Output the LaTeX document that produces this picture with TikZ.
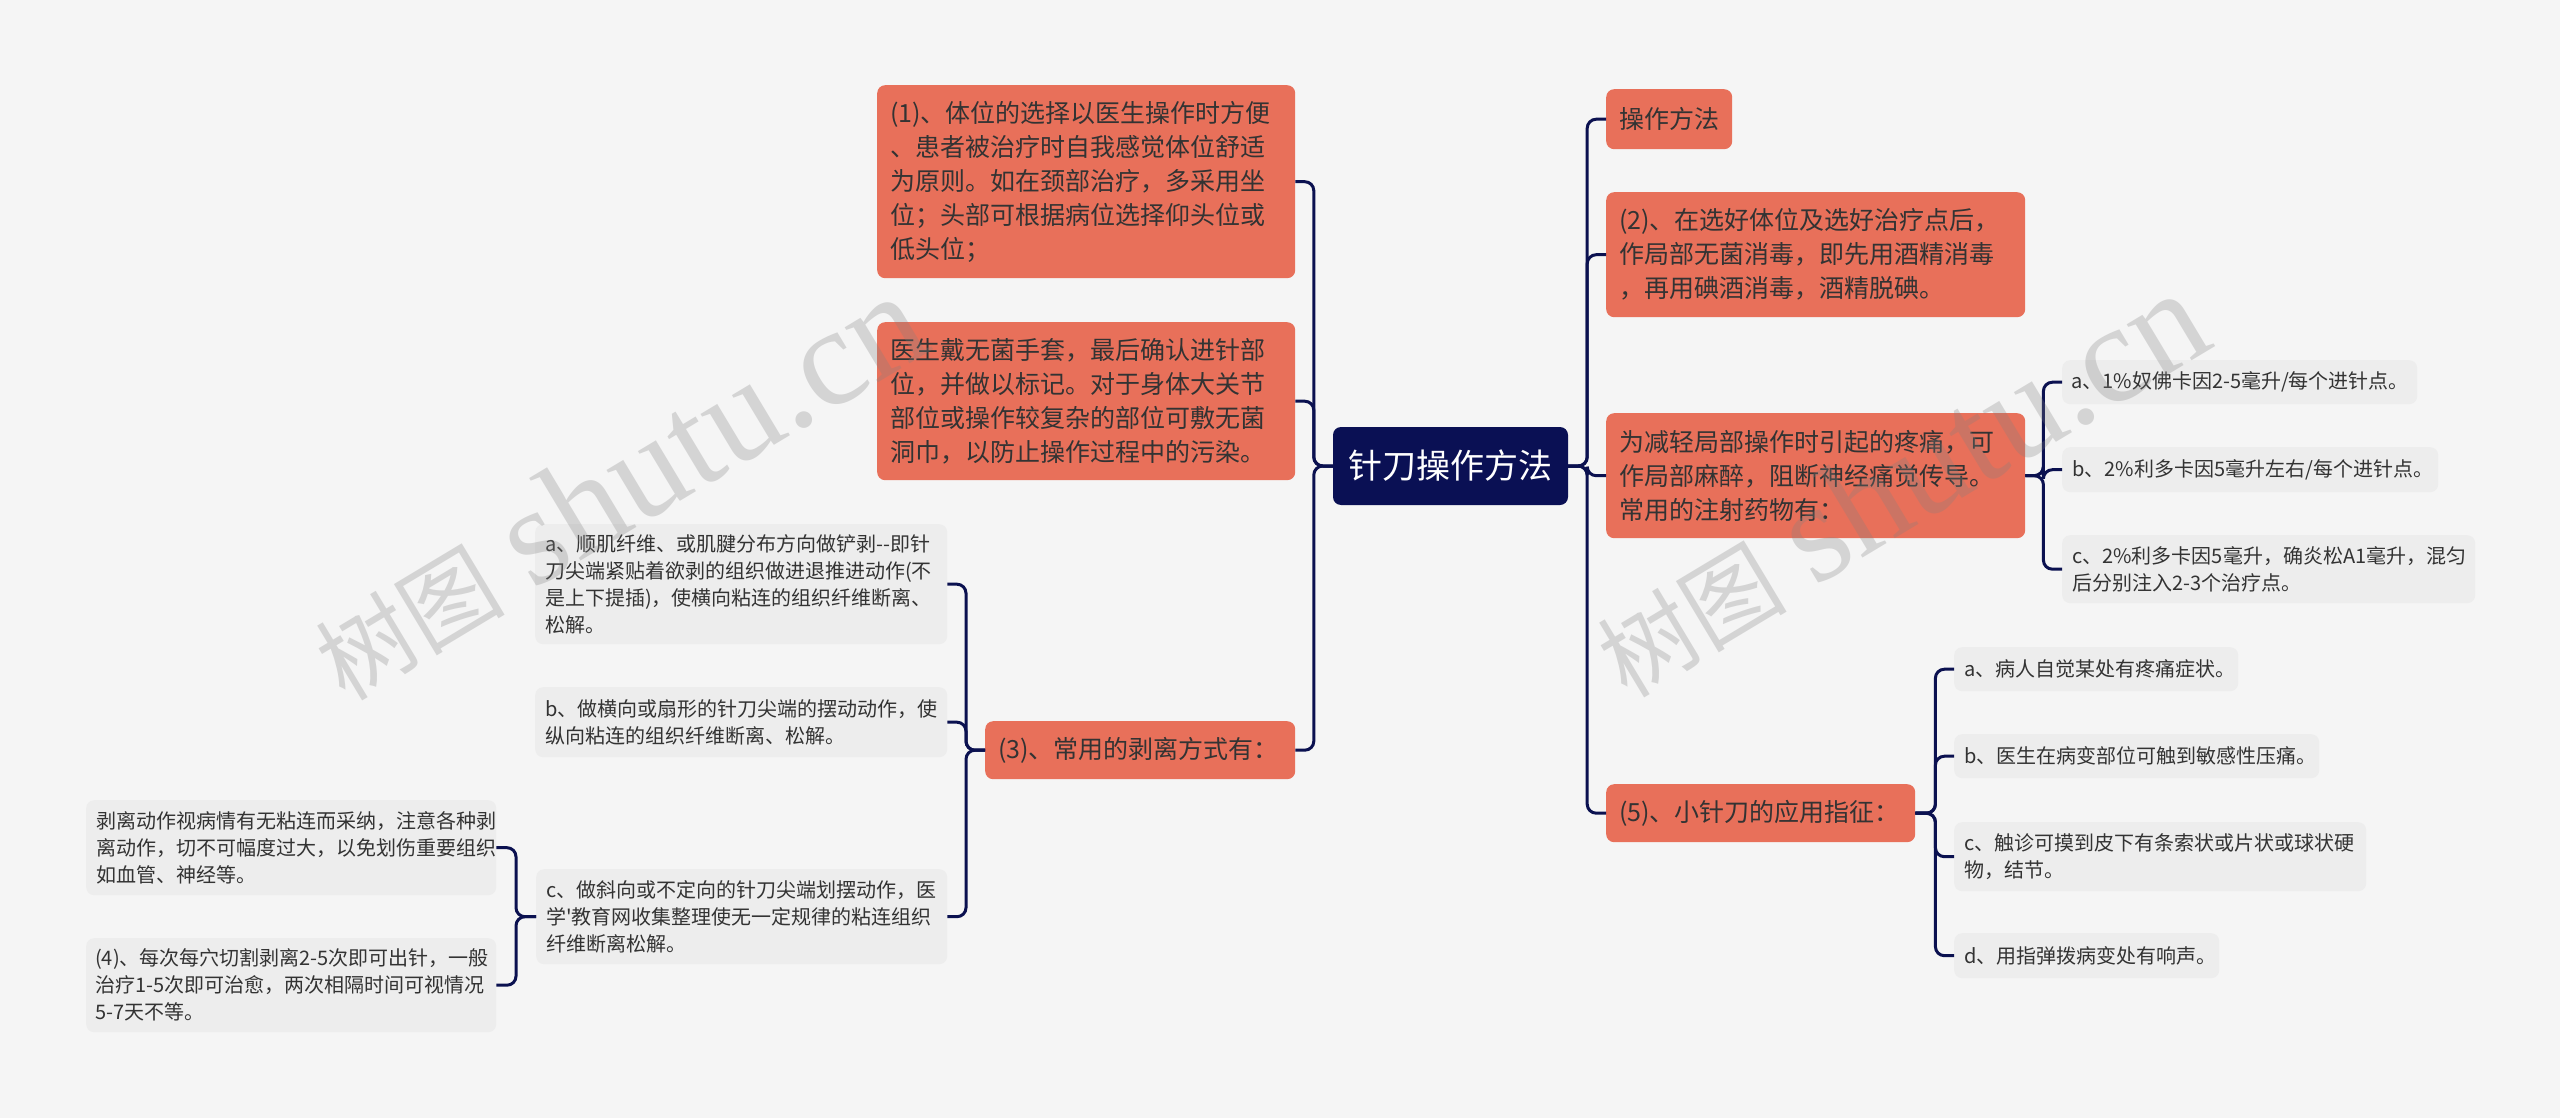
\documentclass[tikz,border=0pt]{standalone}
\usepackage{fontspec}
\setmainfont{Noto Sans CJK SC}
\newfontfamily\wmfont{Liberation Serif}
\definecolor{bgcol}{HTML}{F5F5F5}
\definecolor{rootcol}{HTML}{0A1054}
\definecolor{topiccol}{HTML}{E8705A}
\definecolor{leafcol}{HTML}{EDEDED}
\definecolor{linecol}{HTML}{0B1150}
\definecolor{txtcol}{HTML}{333333}

\begin{document}
\begin{tikzpicture}[x=1pt,y=-1pt,
	root/.style={
		fill=rootcol, rounded corners=8pt,
		text=white, font=\fontsize{34}{40}\selectfont,
		minimum width=235pt, minimum height=78pt,
		inner sep=0pt
	},
	topic/.style={
		fill=topiccol, rounded corners=8pt,
		text=txtcol, font=\fontsize{25}{34}\selectfont,
		inner xsep=13pt, inner ysep=0pt,
		align=left, anchor=north west
	},
	leaf/.style={
		fill=leafcol, rounded corners=8pt,
		text=txtcol, font=\fontsize{20}{27}\selectfont,
		inner xsep=10pt, inner ysep=0pt,
		align=left, anchor=north west
	},
	link/.style={
		draw=linecol, line width=3pt, rounded corners=9pt
	},
	wm/.style={
		text=gray, text opacity=0.28,
		rotate=31, anchor=base west, inner sep=0pt
	}
	]
	\fill[bgcol] (0,0) rectangle (2560,1118);
	\useasboundingbox (0,0) rectangle (2560,1118);

	% centre
	\node[root] (root) at (1450.5,466) {针刀操作方法};

	% right side
	\node[topic, text width=100pt, align=center, minimum height=60pt] (op) at (1606,89) {操作方法};
	\node[topic, text width=393pt, minimum height=125pt] (r2) at (1606,192)
	{(2)、在选好体位及选好治疗点后，\\作局部无菌消毒，即先用酒精消毒\\，再用碘酒消毒，酒精脱碘。};
	\node[topic, text width=393pt, minimum height=125pt] (r3) at (1606,413)
	{为减轻局部操作时引起的疼痛，可\\作局部麻醉，阻断神经痛觉传导。\\常用的注射药物有：};
	\node[topic, text width=283pt, minimum height=58pt] (r5) at (1606,784)
	{(5)、小针刀的应用指征：};

	\node[leaf, text width=337pt, inner xsep=9pt, minimum height=44pt] (r3a) at (2062,360)
	{\mbox{a、1\%奴佛卡因2-5毫升/每个进针点。}};
	\node[leaf, text width=356pt, minimum height=45pt] (r3b) at (2062,447)
	{\mbox{b、2\%利多卡因5毫升左右/每个进针点。}};
	\node[leaf, text width=393pt, minimum height=68pt] (r3c) at (2062,535)
	{c、2\%利多卡因5毫升，确炎松A1毫升，混匀\\后分别注入\mbox{2-3}个治疗点。};

	\node[leaf, text width=264pt, minimum height=44pt] (r5a) at (1954,647)
	{a、病人自觉某处有疼痛症状。};
	\node[leaf, text width=345pt, minimum height=44pt] (r5b) at (1954,734)
	{b、医生在病变部位可触到敏感性压痛。};
	\node[leaf, text width=392pt, minimum height=69pt] (r5c) at (1954,822)
	{c、触诊可摸到皮下有条索状或片状或球状硬\\物，结节。};
	\node[leaf, text width=245pt, minimum height=45pt] (r5d) at (1954,933)
	{d、用指弹拨病变处有响声。};

	% left side
	\node[topic, text width=392pt, minimum height=193pt] (l1) at (877,85)
	{(1)、体位的选择以医生操作时方便\\、患者被治疗时自我感觉体位舒适\\为原则。如在颈部治疗，多采用坐\\位；头部可根据病位选择仰头位或\\低头位；};
	\node[topic, text width=392pt, minimum height=158pt] (l2) at (877,322)
	{医生戴无菌手套，最后确认进针部\\位，并做以标记。对于身体大关节\\部位或操作较复杂的部位可敷无菌\\洞巾，以防止操作过程中的污染。};
	\node[topic, text width=284pt, minimum height=58pt] (l3) at (985,721)
	{(3)、常用的剥离方式有：};

	\node[leaf, text width=392pt, minimum height=120pt] (l3a) at (535,524)
	{a、顺肌纤维、或肌腱分布方向做铲剥-{}-即针\\刀尖端紧贴着欲剥的组织做进退推进动作(不\\是上下提插)，使横向粘连的组织纤维断离、\\松解。};
	\node[leaf, text width=392pt, minimum height=70pt] (l3b) at (535,687)
	{b、做横向或扇形的针刀尖端的摆动动作，使\\纵向粘连的组织纤维断离、松解。};
	\node[leaf, text width=391pt, minimum height=95pt] (l3c) at (536,869)
	{c、做斜向或不定向的针刀尖端划摆动作，医\\学\textquotesingle 教育网收集整理使无一定规律的粘连组织\\纤维断离松解。};

	\node[leaf, text width=390pt, minimum height=95pt] (l3c1) at (86,800)
	{剥离动作视病情有无粘连而采纳，注意各种剥\\离动作，切不可幅度过大，以免划伤重要组织\\如血管、神经等。};
	\node[leaf, text width=392pt, inner xsep=9pt, minimum height=94pt] (l3c2) at (86,938)
	{\mbox{(4)、每次每穴切割剥离2-5次即可出针，一般}\\\mbox{治疗1-5次即可治愈，两次相隔时间可视情况}\\\mbox{5-7天不等。}};

	% connectors
	\draw[link] (root.east) -- ++(19,0) |- (op.west);
	\draw[link] (root.east) -- ++(19,0) |- (r2.west);
	\draw[link] (root.east) -- ++(19,0) |- (r3.west);
	\draw[link] (root.east) -- ++(19,0) |- (r5.west);

	\draw[link] (r3.east) -- ++(18,0) |- (r3a.west);
	\draw[link] (r3.east) -- ++(18,0) |- (r3b.west);
	\draw[link] (r3.east) -- ++(18,0) |- (r3c.west);

	\draw[link] (r5.east) -- ++(20,0) |- (r5a.west);
	\draw[link] (r5.east) -- ++(20,0) |- (r5b.west);
	\draw[link] (r5.east) -- ++(20,0) |- (r5c.west);
	\draw[link] (r5.east) -- ++(20,0) |- (r5d.west);

	\draw[link] (root.west) -- ++(-19,0) |- (l1.east);
	\draw[link] (root.west) -- ++(-19,0) |- (l2.east);
	\draw[link] (root.west) -- ++(-19,0) |- (l3.east);

	\draw[link] (l3.west) -- ++(-19,0) |- (l3a.east);
	\draw[link] (l3.west) -- ++(-19,0) |- (l3b.east);
	\draw[link] (l3.west) -- ++(-19,0) |- (l3c.east);

	\draw[link] (l3c.west) -- ++(-20,0) |- (l3c1.east);
	\draw[link] (l3c.west) -- ++(-20,0) |- (l3c2.east);

	% watermarks
	\node[wm] (wmleft) at (345,703)
	{\fontsize{95}{95}\selectfont 树图\hspace{28pt}{\wmfont\fontsize{140}{140}\selectfont shutu.cn}};
	\node[wm] (wmright) at (1627,700)
	{\fontsize{95}{95}\selectfont 树图\hspace{28pt}{\wmfont\fontsize{140}{140}\selectfont shutu.cn}};
\end{tikzpicture}
\end{document}
